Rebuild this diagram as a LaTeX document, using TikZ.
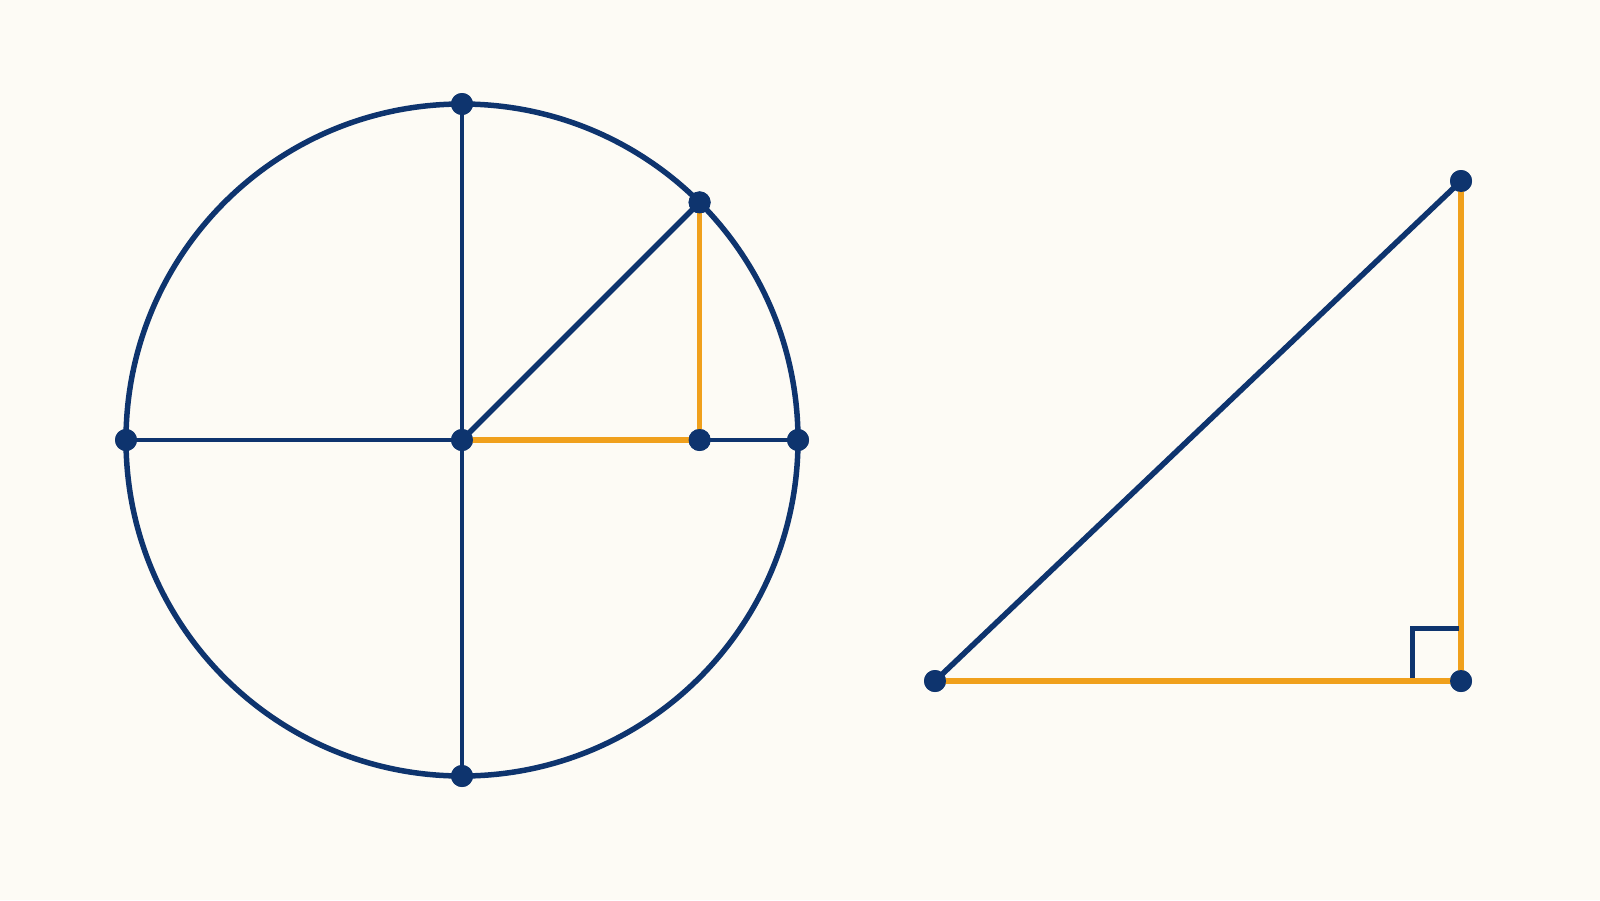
\documentclass[tikz,border=0pt]{standalone}
\definecolor{navy}{RGB}{14,52,110}
\definecolor{gold}{RGB}{240,160,28}
\definecolor{paper}{RGB}{253,251,245}
\tikzset{
  dot/.style={circle,fill=navy,draw=none,inner sep=0pt,minimum size=22pt},
  rim/.style={draw=navy,line width=5.5pt},
  axis/.style={draw=navy,line width=3.5pt},
  navyline/.style={draw=navy,line width=5.5pt},
  goldline/.style={draw=gold,line width=5.5pt},
  marker/.style={draw=navy,line width=5pt}
}
\begin{document}
\begin{tikzpicture}[x=1pt,y=-1pt]
\fill[paper] (0,0) rectangle (1600,900);
\useasboundingbox (0,0) rectangle (1600,900);
% circle construction
\coordinate (Oc) at (462,440);
\draw[rim] (Oc) circle (336);
\node[dot] (T) at (462,104) {};
\node[dot] (B) at (462,776) {};
\node[dot] (L) at (126,440) {};
\node[dot] (R) at (798,440) {};
\node[dot] (O) at (462,440) {};
\node[dot] (P) at (699.6,202.4) {};
\node[dot] (F) at (699.6,440) {};
\draw[axis] (T.center) -- (B.center);
\draw[axis] (L.center) -- (R.center);
\draw[navyline] (O.center) -- (P.center);
\draw[goldline] (O.center) -- (F.center);
\draw[goldline] (P.center) -- (F.center);
% triangle
\node[dot] (A) at (935,681) {};
\node[dot] (C) at (1461,181) {};
\node[dot] (D) at (1461,681) {};
\coordinate (m1) at (1412.5,678);
\coordinate (m2) at (1412.5,628);
\coordinate (m3) at (1459,628);
\draw[navyline] (A.center) -- (C.center);
\draw[goldline] (A.center) -- (D.center);
\draw[goldline] (C.center) -- (D.center);
\draw[marker] (m1) -- (m2) -- (m3);
% dots on top
\foreach \n in {T,B,L,R,O,P,F,A,C,D}
  \fill[navy] (\n.center) circle (11);
\end{tikzpicture}
\end{document}
